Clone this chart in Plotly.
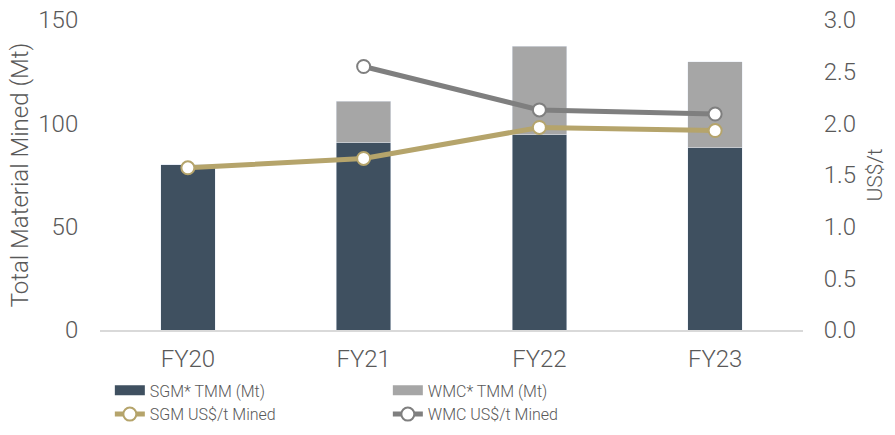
import plotly.graph_objects as go

categories = ["FY20", "FY21", "FY22", "FY23"]
sgm_tmm = [80, 90.5, 94.5, 88.3]
wmc_tmm = [0, 20.3, 42.8, 41.4]
sgm_cost = [1.57, 1.66, 1.96, 1.93]
wmc_cost = [None, 2.55, 2.13, 2.09]

DARK = "#3F5060"
LIGHT = "#A6A6A6"
GOLD = "#B5A46B"
GREY = "#7F7F7F"
TXT = "#595959"
FONT = "Roboto, Liberation Sans, sans-serif"
CLEAR = "rgba(0,0,0,0)"

fig = go.Figure()
fig.add_trace(go.Bar(x=categories, y=sgm_tmm, marker_color=DARK, showlegend=False,
                     name="SGM* TMM (Mt)", width=0.31))
fig.add_trace(go.Bar(x=categories, y=wmc_tmm, marker_color=LIGHT, showlegend=False,
                     name="WMC* TMM (Mt)", width=0.31))
# legend proxies for bars
fig.add_trace(go.Scatter(x=[None], y=[None], mode="lines", line=dict(color=DARK, width=12),
                         name="SGM* TMM (Mt)"))
fig.add_trace(go.Scatter(x=[None], y=[None], mode="lines", line=dict(color=LIGHT, width=12),
                         name="WMC* TMM (Mt)"))
fig.add_trace(go.Scatter(x=categories, y=sgm_cost, yaxis="y2", mode="lines+markers",
                         name="SGM US$/t Mined",
                         line=dict(color=GOLD, width=5),
                         marker=dict(size=13, color="white", line=dict(color=GOLD, width=2))))
fig.add_trace(go.Scatter(x=categories, y=wmc_cost, yaxis="y2", mode="lines+markers",
                         name="WMC US$/t Mined",
                         line=dict(color=GREY, width=5),
                         marker=dict(size=13, color="white", line=dict(color=GREY, width=2))))

tf = dict(size=24, color=TXT, family=FONT, weight=300)

fig.update_layout(
    width=895, height=435,
    barmode="stack",
    plot_bgcolor="white", paper_bgcolor="white",
    margin=dict(l=100, r=92, t=20, b=105, autoexpand=False),
    font=dict(family=FONT, color=TXT, size=20, weight=300),
    xaxis=dict(showline=True, linecolor="#D9D9D9", linewidth=1.5, ticks="outside",
               ticklen=6, tickcolor=CLEAR, tickfont=tf, showgrid=False),
    yaxis=dict(range=[0, 150], tickvals=[0, 50, 100, 150], showgrid=False, zeroline=False,
               title=dict(text="Total Material Mined (Mt)", font=tf, standoff=2),
               tickfont=tf, ticks="outside", ticklen=16, tickcolor=CLEAR),
    yaxis2=dict(range=[0, 3], tickvals=[0, 0.5, 1, 1.5, 2, 2.5, 3], tickformat=".1f",
                overlaying="y", side="right", showgrid=False, zeroline=False,
                title=dict(text="US$/t", font=dict(size=21, color=TXT, family=FONT, weight=300),
                           standoff=12),
                tickfont=tf, ticks="outside", ticklen=15, tickcolor=CLEAR),
    legend=dict(orientation="h", x=0.014, xanchor="left", y=-0.14, yanchor="top",
                entrywidth=233, font=dict(size=16, color=TXT, family=FONT, weight=300),
                itemwidth=30, tracegroupgap=0, traceorder="normal"),
)

fig.write_html("out.html", config={"displayModeBar": False},
               post_script="document.body.style.margin='0';document.body.style.overflow='hidden';")
